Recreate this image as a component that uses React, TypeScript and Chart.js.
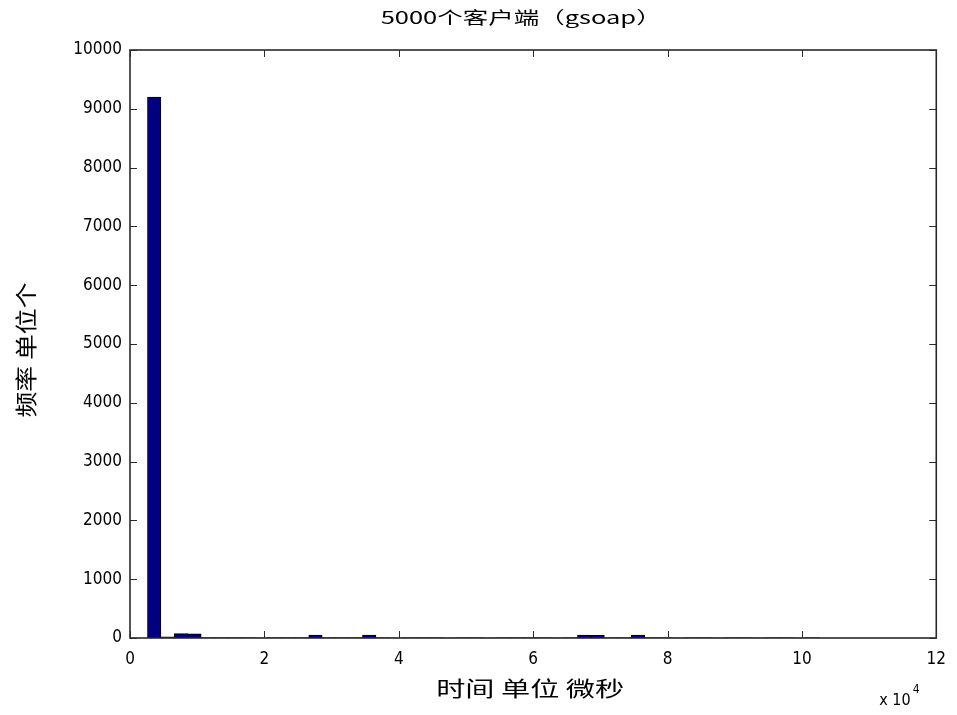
import React, { useEffect, useRef } from "react";
import { Chart, registerables } from "chart.js";

Chart.register(...registerables);

// Histogram bin centres (x 10^4 microseconds)
const binCenters = [
  0.36, 0.56, 0.76, 0.96, 1.16, 1.36, 1.56, 1.76, 1.96, 2.16,
  2.36, 2.56, 2.76, 2.96, 3.16, 3.36, 3.56, 3.76, 3.96, 4.16,
  4.36, 4.56, 4.76, 4.96, 5.16, 5.36, 5.56, 5.76, 5.96, 6.16,
  6.36, 6.56, 6.76, 6.96, 7.16, 7.36, 7.56, 7.76, 7.96, 8.16,
  8.36, 8.56, 8.76, 8.96, 9.16, 9.36, 9.56, 9.76, 9.96, 10.16,
];
// Frequency per bin
const binCounts = [
  9200, 20, 75, 70, 8, 6, 9, 7, 5, 8,
  6, 9, 50, 7, 6, 8, 50, 6, 5, 7,
  6, 8, 5, 6, 7, 5, 6, 8, 7, 6,
  5, 7, 50, 45, 6, 8, 50, 6, 7, 5,
  6, 8, 5, 7, 6, 5, 7, 6, 5, 8,
];
const xTickValues = [0, 2, 4, 6, 8, 10, 12];
const yTickValues = [0, 1000, 2000, 3000, 4000, 5000, 6000, 7000, 8000, 9000, 10000];

const chartTitle = "5000个客户端（gsoap）";
const xTitle = "时间 单位 微秒";
const yTitle = "频率 单位个";
const xMultiplier = "x 10";
const xExponent = "4";

const TICK_FAMILY = "'Liberation Sans Narrow', 'DejaVu Sans Condensed', 'Liberation Sans', sans-serif";
const CJK_FAMILY = "'Noto Sans CJK SC', 'Noto Sans', sans-serif";

function drawStretched(
  ctx: CanvasRenderingContext2D,
  text: string,
  cx: number,
  cy: number,
  font: string,
  targetWidth: number,
  rotation: number
) {
  ctx.save();
  ctx.translate(cx, cy);
  ctx.rotate(rotation);
  ctx.font = font;
  const w = ctx.measureText(text).width;
  ctx.scale(targetWidth / w, 1);
  ctx.textAlign = "center";
  ctx.textBaseline = "middle";
  ctx.fillStyle = "#000";
  ctx.fillText(text, 0, 0);
  ctx.restore();
}

const matlabPlugin = {
  id: "matlabDecor",
  afterDatasetsDraw(chart: any) {
    const { ctx, chartArea, scales } = chart;
    const { left, right, top, bottom } = chartArea;
    const xs = scales.x;
    const ys = scales.y;
    ctx.save();
    // box
    ctx.strokeStyle = "#2a2a2a";
    ctx.lineWidth = 1.6;
    ctx.strokeRect(left, top, right - left, bottom - top);
    // inward ticks on all sides
    const tl = 7;
    ctx.lineWidth = 1;
    ctx.beginPath();
    xs.ticks.forEach((t: any) => {
      const px = Math.round(xs.getPixelForValue(t.value)) + 0.5;
      ctx.moveTo(px, bottom);
      ctx.lineTo(px, bottom - tl);
      ctx.moveTo(px, top);
      ctx.lineTo(px, top + tl);
    });
    ys.ticks.forEach((t: any) => {
      const py = Math.round(ys.getPixelForValue(t.value)) + 0.5;
      ctx.moveTo(left, py);
      ctx.lineTo(left + tl, py);
      ctx.moveTo(right, py);
      ctx.lineTo(right - tl, py);
    });
    ctx.stroke();

    const midX = (left + right) / 2;
    const midY = (top + bottom) / 2;
    drawStretched(ctx, chartTitle, midX - 12, top - 32, `17px ${CJK_FAMILY}`, 281, 0);
    drawStretched(ctx, xTitle, midX - 3, bottom + 50, `21px ${CJK_FAMILY}`, 188, 0);
    drawStretched(ctx, yTitle, left - 104, midY + 6, `22px ${CJK_FAMILY}`, 135, -Math.PI / 2);

    ctx.fillStyle = "#000";
    ctx.textAlign = "left";
    ctx.textBaseline = "middle";
    ctx.font = `16px ${TICK_FAMILY}`;
    const mx = right - 57;
    ctx.fillText(xMultiplier, mx, bottom + 63);
    const mw = ctx.measureText(xMultiplier).width;
    ctx.font = `12px ${TICK_FAMILY}`;
    ctx.fillText(xExponent, mx + mw + 2, bottom + 52);
    ctx.restore();
  },
};

export default function App() {
  const canvasRef = useRef<HTMLCanvasElement | null>(null);

  useEffect(() => {
    const canvas = canvasRef.current;
    if (!canvas) return;
    const chart = new Chart(canvas, {
      type: "bar",
      data: {
        datasets: [
          {
            data: binCenters.map((c, i) => ({ x: c, y: binCounts[i] })),
            backgroundColor: "#000080",
            borderColor: "#000000",
            borderWidth: 1,
            borderSkipped: false,
            categoryPercentage: 1,
            barPercentage: 1,
          } as any,
        ],
      },
      options: {
        animation: false,
        responsive: true,
        maintainAspectRatio: false,
        layout: { padding: { top: 50, right: 18, left: 0, bottom: 0 } },
        plugins: {
          legend: { display: false },
          tooltip: { enabled: false },
          title: { display: false },
        },
        scales: {
          x: {
            type: "linear",
            min: 0,
            max: 12,
            offset: false,
            grid: { display: false, drawTicks: false, offset: false },
            border: { display: false },
            afterBuildTicks: (scale: any) => {
              scale.ticks = xTickValues.map((v) => ({ value: v }));
            },
            afterFit: (scale: any) => {
              scale.height = 77;
            },
            ticks: {
              color: "#000",
              padding: 11,
              maxRotation: 0,
              autoSkip: false,
              font: { family: TICK_FAMILY, size: 17 },
              callback: (v: any) => String(v),
            },
          },
          y: {
            type: "linear",
            min: 0,
            max: 10000,
            grid: { display: false, drawTicks: false },
            border: { display: false },
            afterBuildTicks: (scale: any) => {
              scale.ticks = yTickValues.map((v) => ({ value: v }));
            },
            afterFit: (scale: any) => {
              scale.width = 130;
            },
            ticks: {
              color: "#000",
              padding: 8,
              autoSkip: false,
              font: { family: TICK_FAMILY, size: 17 },
              callback: (v: any) => String(v),
            },
          },
        },
      } as any,
      plugins: [matlabPlugin],
    });
    return () => chart.destroy();
  }, []);

  return (
    <div
      style={{
        position: "absolute",
        left: 0,
        top: 0,
        width: 957,
        height: 715,
        background: "#fff",
      }}
    >
      <canvas ref={canvasRef} />
    </div>
  );
}
